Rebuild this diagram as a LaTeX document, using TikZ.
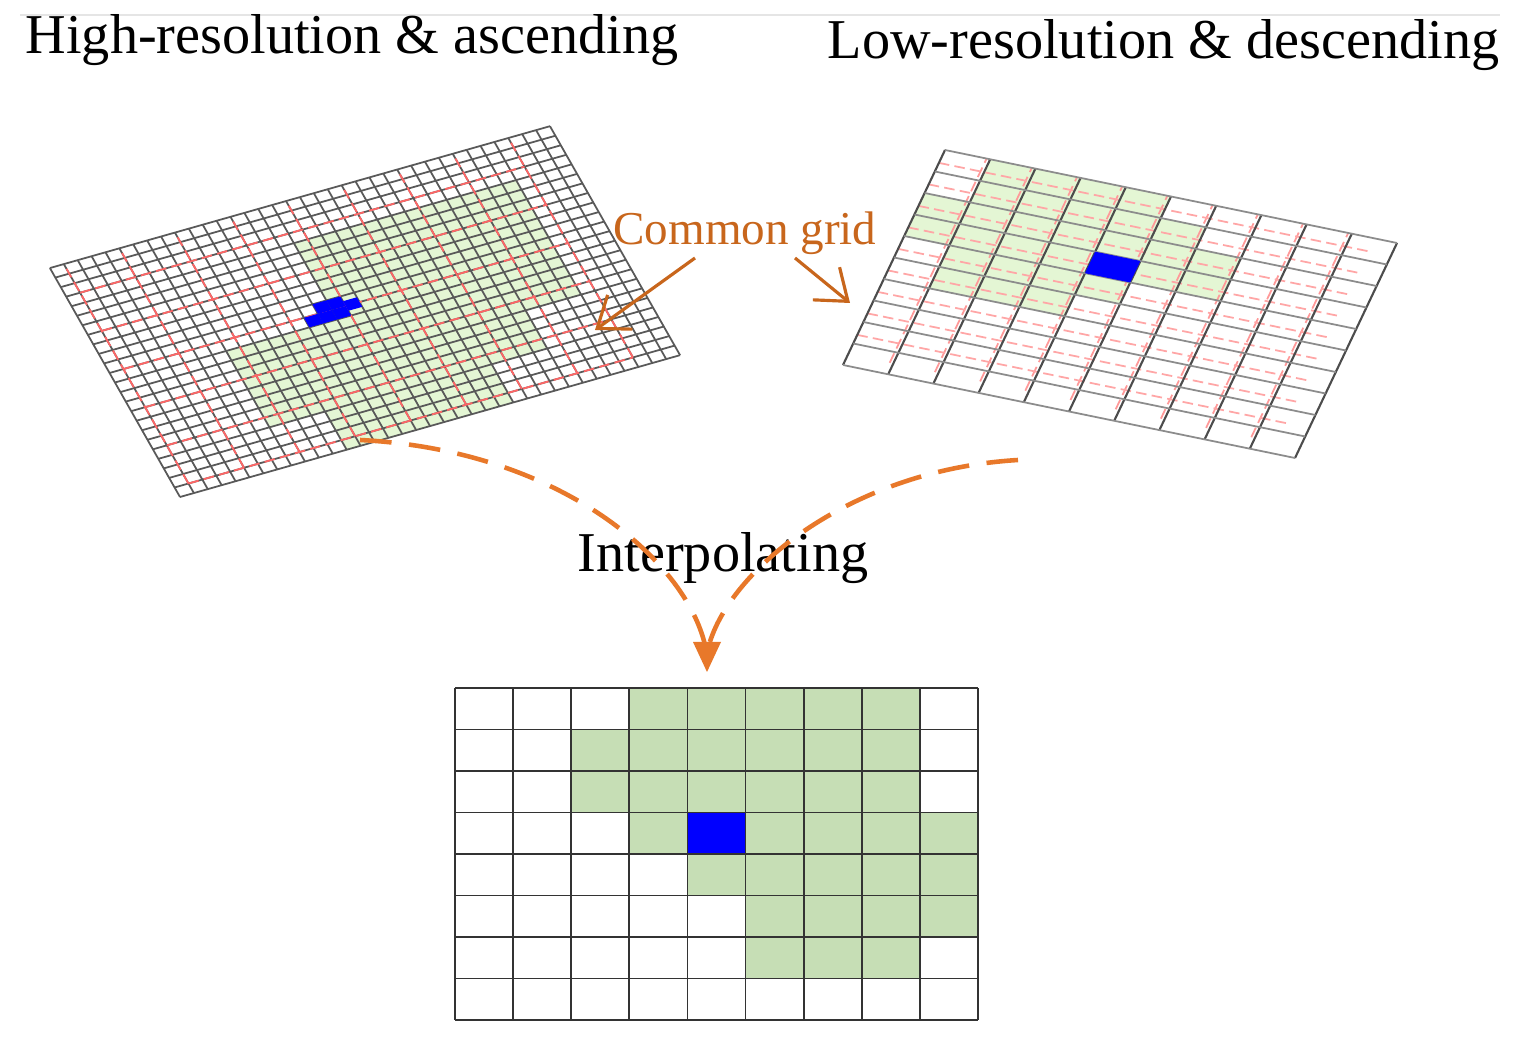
\documentclass[tikz,border=0pt]{standalone}
\usepackage{fontspec}
\setmainfont{Liberation Serif}
\usetikzlibrary{arrows.meta}
\definecolor{gfill}{HTML}{C6DEB5}
\definecolor{lgreen}{HTML}{E4F6D4}
\definecolor{org}{HTML}{C8661C}
\definecolor{darr}{HTML}{E8782A}
\tikzset{
  fine/.style={line width=0.5pt, draw=black!65},
  reddash/.style={line width=0.5pt, draw=red!60, dash pattern=on 3pt off 1.5pt},
  cell/.style={draw=black!80, line width=0.5pt},
  ttl/.style={font=\fontsize{16}{18}\selectfont, inner sep=0pt},
  cgarrow/.style={draw=org, line width=0.9pt, -{Straight Barb[length=8pt,width=12pt]}},
  bigdash/.style={draw=darr, line width=1.3pt, dash pattern=on 9pt off 5pt}
}
\begin{document}
\begin{tikzpicture}
\useasboundingbox (0,0) rectangle (15.25,-10.46);
\fill[white] (0,0) rectangle (15.25,-10.46);
\draw[black!10, line width=0.4pt] (0.2,-0.15) -- (15.0,-0.15);

% titles
\node[ttl, anchor=west] (t1) at (0.25,-0.40) {High-resolution \& ascending};
\node[ttl, anchor=east] (t2) at (15.0,-0.45) {Low-resolution \& descending};

% ---- left grid (fine cells) ----
\begin{scope}[shift={(1.80,-4.97)}, x={(0.1389cm,0.0394cm)}, y={(-0.0542cm,0.0954cm)}]
  \foreach \A/\B in {4/4,5/4,6/4,7/4, 4/3,5/3,6/3,7/3, 2/2,3/2,4/2,5/2,6/2,7/2,
     2/1,3/1,4/1,5/1,6/1, 3/0,4/0,5/0}
    \fill[lgreen] ({4*\A},{4*\B}) -- ({4*\A+4},{4*\B}) -- ({4*\A+4},{4*\B+4}) -- ({4*\A},{4*\B+4}) -- cycle;
  \foreach \i in {0,...,36} \draw[fine] (\i,0) -- (\i,24);
  \foreach \j in {0,...,24} \draw[fine] (0,\j) -- (36,\j);
  \foreach \i in {1,5,...,33} \draw[reddash] (\i,1) -- (\i,23.5);
  \foreach \j in {1,5,...,21} \draw[reddash] (1,\j) -- (33,\j);
  \foreach \a/\b in {14/12,15/12,16/12,15/13,16/13,17/12.5}
    \fill[blue] (\a,\b) -- ({\a+1},\b) -- ({\a+1},{\b+1}) -- (\a,{\b+1}) -- cycle;
\end{scope}

% ---- right grid ----
\begin{scope}[shift={(8.43,-3.65)}, x={(0.452cm,-0.093cm)}, y={(0.102cm,0.215cm)}]
  \foreach \c/\y in {1/9,2/9,3/9,4/9, 1/8,2/8,3/8,4/8,5/8, 0/7,1/7,2/7,3/7,4/7,5/7,6/7,
     0/6,1/6,2/6,3/6,5/6,6/6, 1/5,2/5,3/5,4/5, 1/4,2/4,3/4}
    \fill[lgreen] (\c,\y) -- ({\c+1},\y) -- ({\c+1},{\y+1}) -- (\c,{\y+1}) -- cycle;
  \foreach \i in {1,...,9} \draw[reddash, draw=red!40] ({\i-0.08},0.5) -- ({\i-0.08},10);
  \foreach \j in {1,...,9} \draw[reddash, draw=red!35] (0,{\j+0.4}) -- (9.5,{\j+0.4});
  \foreach \i in {0,...,10} \draw[line width=0.6pt, black!70] (\i,0) -- (\i,10);
  \foreach \j in {0,...,10} \draw[line width=0.5pt, black!45] (0,\j) -- (10,\j);
  \fill[blue] (4,6) -- (5,6) -- (5,7) -- (4,7) -- cycle;
\end{scope}

% Common grid label and arrows
\node[font=\fontsize{13.4}{15}\selectfont, text=org, inner sep=0pt] (cg) at (7.45,-2.33) {Common grid};
\coordinate (cgl) at (6.95,-2.58);
\coordinate (cgr) at (7.95,-2.58);
\coordinate (tl) at (5.95,-3.30);
\coordinate (tr) at (8.50,-3.03);
\draw[cgarrow] (cgl) -- (tl);
\draw[cgarrow] (cgr) -- (tr);

% Interpolating
\node[font=\fontsize{16}{18}\selectfont, inner sep=0pt] (ip) at (7.23,-5.58) {Interpolating};
\coordinate (s1) at (3.60,-4.40);
\coordinate (s2) at (10.18,-4.60);
\coordinate (tip) at (7.07,-6.72);
\draw[bigdash] (s1) .. controls (5.6,-4.5) and (6.85,-5.6) .. (7.05,-6.45);
\draw[bigdash] (s2) .. controls (8.5,-4.7) and (7.3,-5.7) .. (7.09,-6.45);
\fill[darr] (tip) -- (6.93,-6.42) -- (7.21,-6.42) -- cycle;

% ---- bottom grid ----
\begin{scope}[shift={(4.55,-6.88)}, x=0.5811cm, y=-0.415cm]
  \foreach \c/\r in {3/0,4/0,5/0,6/0,7/0, 2/1,3/1,4/1,5/1,6/1,7/1, 2/2,3/2,4/2,5/2,6/2,7/2,
     3/3,5/3,6/3,7/3,8/3, 4/4,5/4,6/4,7/4,8/4, 5/5,6/5,7/5,8/5, 5/6,6/6,7/6}
    \fill[gfill] (\c,\r) rectangle ({\c+1},{\r+1});
  \fill[blue] (4,3) rectangle (5,4);
  \foreach \i in {0,...,9} \draw[cell] (\i,0) -- (\i,8);
  \foreach \j in {0,...,8} \draw[cell] (0,\j) -- (9,\j);
\end{scope}
\end{tikzpicture}
\end{document}
